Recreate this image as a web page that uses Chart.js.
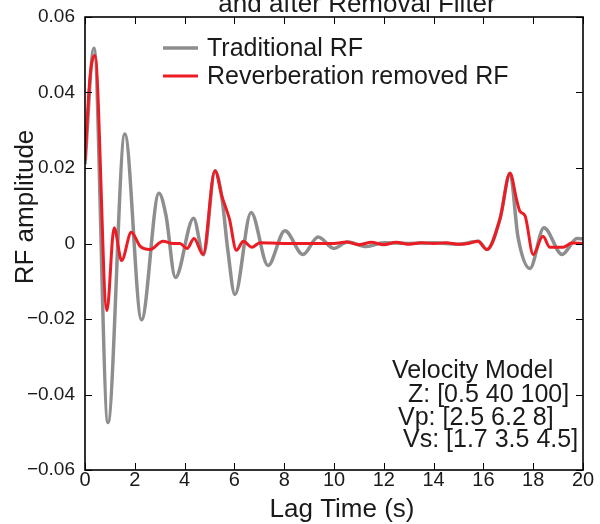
<!DOCTYPE html>
<html>
<head>
<meta charset="utf-8">
<script src="https://cdn.jsdelivr.net/npm/chart.js@4/dist/chart.umd.min.js"></script>
<style>
  html, body { margin: 0; padding: 0; background: #fff; }
  #wrap { width: 600px; height: 524px; }
</style>
</head>
<body>
<div id="wrap"><canvas id="rfChart" width="600" height="524"></canvas></div>
<script>
// traditional RF (gray)
const tradTime = [0, 0.36, 0.92, 1.6, 2.27, 2.97, 3.25, 3.63, 4.36, 4.76, 5.22, 5.5, 5.74, 6.02,
  6.67, 7.35, 8.03, 8.75, 9.36, 10.0, 10.54, 11.3, 12, 13, 14, 15, 15.8, 16.14, 16.67, 17.07,
  17.39, 17.87, 18.43, 19.16, 19.76, 20];
const tradAmp = [0.021, 0.0517, -0.0474, 0.029, -0.0202, 0.0133, 0.0075, -0.009, 0.0067, -0.003,
  0.0193, 0.012, -0.002, -0.0135, 0.0082, -0.0058, 0.0034, -0.0029, 0.0017, -0.0013, 0.0004,
  -0.0008, 0.0002, 0, 0.0002, -0.0002, 0.0006, -0.0016, 0.0066, 0.0186, 0.0017, -0.0066, 0.0042,
  -0.0029, 0.0013, 0.0012];

// reverberation removed RF (red)
const remTime = [0, 0.2, 0.4, 0.88, 1.17, 1.47, 1.86, 2.21, 2.61, 3.13, 3.53, 3.81, 4.1, 4.38,
  4.74, 5.22, 5.5, 5.8, 6.08, 6.36, 6.7, 7.03, 8, 9, 10, 10.5, 11, 11.5, 12, 12.5, 13, 13.5, 14,
  14.5, 15, 15.4, 15.78, 16.14, 16.67, 17.07, 17.34, 17.47, 17.67, 18.0, 18.39, 18.67, 19.2,
  19.55, 20];
const remAmp = [0.022, 0.044, 0.0498, -0.0178, 0.0042, -0.0045, 0.003, -0.0007, -0.0016, 0.0006,
  0, 0, -0.0013, 0.0013, -0.0029, 0.0193, 0.0125, 0.0065, -0.0018, 0.0006, -0.001, 0.0002, 0, 0,
  0, 0.0004, -0.0003, 0.0003, -0.0003, 0.0003, -0.0002, 0.0002, 0, 0.0002, -0.0002, 0, 0.0006,
  -0.0016, 0.0066, 0.0186, 0.0114, 0.0085, 0.0074, -0.0029, 0.0019, -0.001, -0.001, 0.0001, 0];

const xTicks = [0, 2, 4, 6, 8, 10, 12, 14, 16, 18, 20];
const xTickLabels = ['0', '2', '4', '6', '8', '10', '12', '14', '16', '18', '20'];
const yTicks = [-0.06, -0.04, -0.02, 0, 0.02, 0.04, 0.06];
const yTickLabels = ['\u22120.06', '\u22120.04', '\u22120.02', '0', '0.02', '0.04', '0.06'];

const seriesNames = ['Traditional RF', 'Reverberation removed RF'];
const seriesColors = ['#8e8e8e', '#ec1c24'];

const FONT = '"Liberation Sans", Arial, Helvetica, sans-serif';
const INK = '#1a1a1a';

const toPoints = (ts, vs) => ts.map((t, i) => ({ x: t, y: vs[i] }));

// frame, inward ticks, legend, labels and the velocity model note
const decorations = {
  id: 'decorations',
  afterDraw(chart) {
    const { ctx, chartArea: a, scales } = chart;
    ctx.save();

    ctx.strokeStyle = '#000';
    ctx.lineWidth = 1;
    ctx.beginPath();
    xTicks.forEach(v => {
      const px = Math.round(scales.x.getPixelForValue(v)) + 0.5;
      ctx.moveTo(px, a.bottom); ctx.lineTo(px, a.bottom - 7);
      ctx.moveTo(px, a.top); ctx.lineTo(px, a.top + 7);
    });
    yTicks.forEach(v => {
      const py = Math.round(scales.y.getPixelForValue(v)) + 0.5;
      ctx.moveTo(a.left, py); ctx.lineTo(a.left + 7, py);
      ctx.moveTo(a.right, py); ctx.lineTo(a.right - 7, py);
    });
    ctx.stroke();

    ctx.lineWidth = 1.6;
    ctx.strokeRect(a.left, a.top, a.right - a.left, a.bottom - a.top);

    // legend
    ctx.textAlign = 'left';
    ctx.textBaseline = 'middle';
    ctx.font = '25px ' + FONT;
    [48, 76].forEach((ly, i) => {
      ctx.strokeStyle = seriesColors[i];
      ctx.lineWidth = i === 0 ? 3.5 : 3;
      ctx.beginPath();
      ctx.moveTo(163, ly); ctx.lineTo(198, ly);
      ctx.stroke();
      ctx.fillStyle = INK;
      ctx.fillText(seriesNames[i], 207, ly + 1);
    });

    ctx.fillStyle = INK;
    ctx.textBaseline = 'alphabetic';

    // velocity model note
    ctx.font = '25px ' + FONT;
    ctx.fillText('Velocity Model', 392, 378);
    ctx.fillText('Z: [0.5 40 100]', 408, 402);
    ctx.fillText('Vp: [2.5 6.2 8]', 398, 425);
    ctx.fillText('Vs: [1.7 3.5 4.5]', 403, 447);

    // title (second line only is visible)
    ctx.font = '26px ' + FONT;
    ctx.textAlign = 'center';
    ctx.fillText('and after Removal Filter', 357, 12);

    // axis titles
    ctx.fillText('Lag Time (s)', 342, 517);
    ctx.save();
    ctx.translate(33, 207);
    ctx.rotate(-Math.PI / 2);
    ctx.fillText('RF amplitude', 0, 0);
    ctx.restore();

    ctx.restore();
  }
};

new Chart(document.getElementById('rfChart').getContext('2d'), {
  type: 'line',
  data: {
    datasets: [
      {
        label: seriesNames[0],
        data: toPoints(tradTime, tradAmp),
        borderColor: seriesColors[0],
        borderWidth: 3.5,
        order: 2
      },
      {
        label: seriesNames[1],
        data: toPoints(remTime, remAmp),
        borderColor: seriesColors[1],
        borderWidth: 3,
        order: 1
      }
    ]
  },
  options: {
    responsive: false,
    animation: false,
    events: [],
    layout: { padding: { top: 17, right: 17, left: 0, bottom: 0 } },
    elements: {
      point: { radius: 0 },
      line: { cubicInterpolationMode: 'monotone', fill: false }
    },
    plugins: {
      legend: { display: false },
      tooltip: { enabled: false },
      title: { display: false }
    },
    scales: {
      x: {
        type: 'linear',
        min: 0,
        max: 20,
        afterBuildTicks: s => { s.ticks = xTicks.map(v => ({ value: v })); },
        afterFit: s => { s.height = 54; },
        grid: { display: false },
        border: { display: false },
        ticks: {
          autoSkip: false,
          maxRotation: 0,
          padding: -10,
          color: INK,
          font: { family: FONT, size: 20 },
          callback: (v, i) => xTickLabels[i]
        }
      },
      y: {
        type: 'linear',
        min: -0.06,
        max: 0.06,
        afterBuildTicks: s => { s.ticks = yTicks.map(v => ({ value: v })); },
        afterFit: s => { s.width = 85; },
        grid: { display: false },
        border: { display: false },
        ticks: {
          padding: 2,
          color: INK,
          font: { family: FONT, size: 19 },
          callback: (v, i) => yTickLabels[i]
        }
      }
    }
  },
  plugins: [decorations]
});
</script>
</body>
</html>
